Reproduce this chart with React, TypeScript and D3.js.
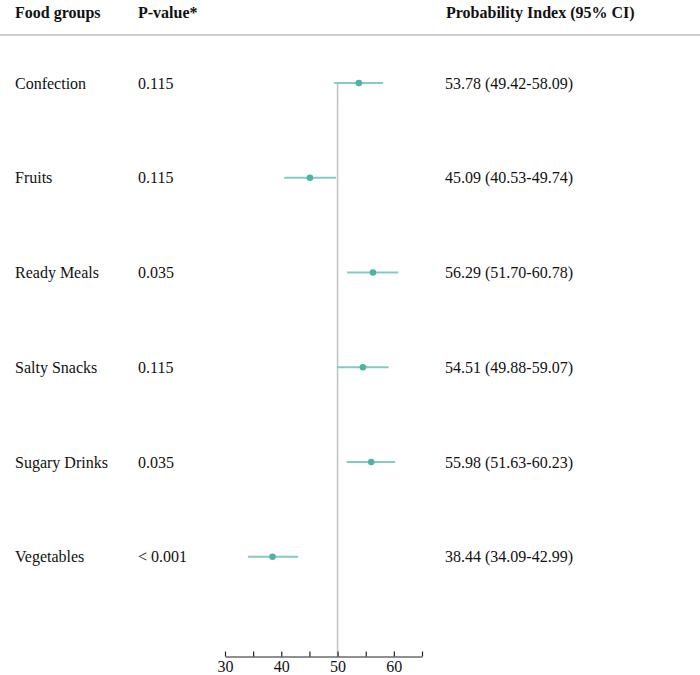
import { useEffect, useRef } from "react";
import * as d3 from "d3";

const foods = ["Confection", "Fruits", "Ready Meals", "Salty Snacks", "Sugary Drinks", "Vegetables"];
const pValues = ["0.115", "0.115", "0.035", "0.115", "0.035", "< 0.001"];
const estimate = [53.78, 45.09, 56.29, 54.51, 55.98, 38.44];
const lower = [49.42, 40.53, 51.7, 49.88, 51.63, 34.09];
const upper = [58.09, 49.74, 60.78, 59.07, 60.23, 42.99];
const axisTicks = [30, 35, 40, 45, 50, 55, 60, 65];
const refValue = 50;

const W = 700;
const H = 675;
const FONT = "'Liberation Serif', 'Times New Roman', serif";

export default function App() {
  const axisRef = useRef<SVGGElement>(null);

  const x = d3.scaleLinear().domain([30, 65]).range([225, 422]);
  const y = d3.scaleLinear().domain([0, foods.length - 1]).range([83, 556.7]);
  const axisY = 656.5;

  useEffect(() => {
    document.body.style.margin = "0";
    if (!axisRef.current) return;
    const g = d3.select(axisRef.current);
    g.selectAll("*").remove();
    g.call(
      d3.axisBottom(x)
        .tickValues(axisTicks)
        .tickSizeInner(-5)
        .tickSizeOuter(0)
        .tickPadding(4)
        .tickFormat((d) => (+d % 10 === 0 ? String(d) : ""))
    );
    g.select(".domain").attr("stroke", "#222").attr("stroke-width", 1.2);
    g.selectAll(".tick line").attr("stroke", "#222").attr("stroke-width", 1.2);
    g.selectAll(".tick text")
      .attr("fill", "#111")
      .attr("font-size", 16)
      .attr("font-family", FONT);
  }, []);

  const fmt = (v: number) => v.toFixed(2);

  return (
    <svg width={W} height={H} style={{ display: "block", background: "#fff" }} fontFamily={FONT}>
      {/* header */}
      <g fontWeight="bold" fontSize={16} fill="#111">
        <text x={15} y={12} dy="0.35em">Food groups</text>
        <text x={138} y={12} dy="0.35em">P-value*</text>
        <text x={446} y={12} dy="0.35em">Probability Index (95% CI)</text>
      </g>
      <line x1={0} x2={W} y1={35} y2={35} stroke="#bdbdbd" strokeWidth={1.5} />

      {/* reference line */}
      <line x1={x(refValue)} x2={x(refValue)} y1={y(0)} y2={axisY} stroke="#c4c4c4" strokeWidth={1.6} />

      {foods.map((f, i) => (
        <g key={f}>
          <text x={15} y={y(i)} dy="0.35em" fontSize={16} fill="#111">{f}</text>
          <text x={138} y={y(i)} dy="0.35em" fontSize={16} fill="#111">{pValues[i]}</text>
          <text x={445} y={y(i)} dy="0.35em" fontSize={16} fill="#111">
            {`${fmt(estimate[i])} (${fmt(lower[i])}-${fmt(upper[i])})`}
          </text>
          <line x1={x(lower[i])} x2={x(upper[i])} y1={y(i)} y2={y(i)} stroke="#84cbc1" strokeWidth={2} />
          <circle cx={x(estimate[i])} cy={y(i)} r={3.3} fill="#4eb3a5" />
        </g>
      ))}

      <g ref={axisRef} transform={`translate(0,${axisY})`} />
    </svg>
  );
}
